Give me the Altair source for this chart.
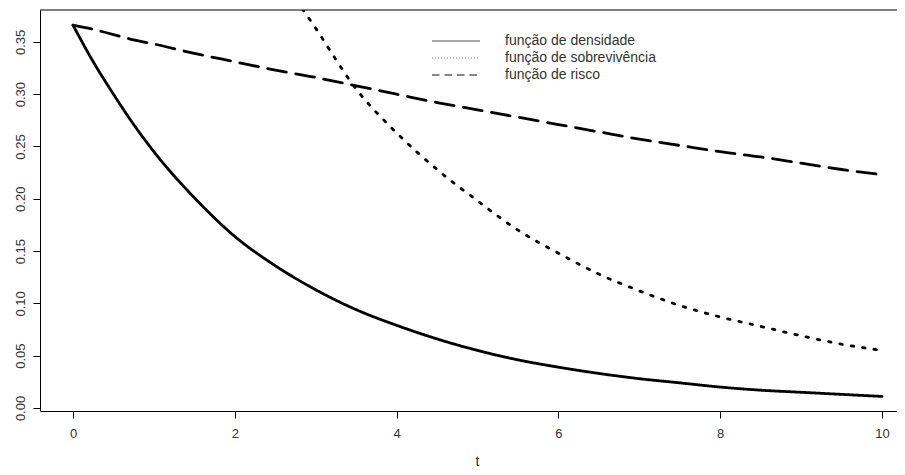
import altair as alt
import pandas as pd

# ---- data ----
t = [0.0, 0.25, 0.5, 0.75, 1.0, 1.5, 2.0, 2.5, 3.0, 3.5, 4.0, 4.5, 5.0,
     5.5, 6.0, 6.5, 7.0, 7.5, 8.0, 8.5, 9.0, 9.5, 10.0]
densidade = [0.366, 0.331, 0.300, 0.271, 0.245, 0.201, 0.164, 0.136, 0.113, 0.094, 0.079, 0.066, 0.055,
             0.046, 0.039, 0.033, 0.028, 0.024, 0.020, 0.017, 0.015, 0.013, 0.011]
sobrevivencia = [1.000, 0.915, 0.840, 0.770, 0.704, 0.593, 0.495, 0.421, 0.363, 0.305, 0.263, 0.228, 0.198,
                 0.170, 0.148, 0.128, 0.112, 0.098, 0.087, 0.078, 0.069, 0.061, 0.055]
risco = [0.366, 0.362, 0.357, 0.352, 0.348, 0.339, 0.331, 0.323, 0.316, 0.308, 0.300, 0.292, 0.285,
         0.278, 0.271, 0.264, 0.257, 0.251, 0.245, 0.240, 0.234, 0.228, 0.223]
series_names = ["função de densidade", "função de sobrevivência", "função de risco"]
x_ticks = [0, 2, 4, 6, 8, 10]
y_ticks = [0.00, 0.05, 0.10, 0.15, 0.20, 0.25, 0.30, 0.35]

rows = []
for name, vals in zip(series_names, [densidade, sobrevivencia, risco]):
    for ti, v in zip(t, vals):
        rows.append({"t": ti, "valor": v, "serie": name})
df = pd.DataFrame(rows)
leg_df = pd.DataFrame({"serie": series_names})
border_df = pd.DataFrame({"k": [0]})

W, H = 857, 401
FONT = "Liberation Sans"
TXT = "#333333"

x_scale = alt.Scale(domain=[-0.408, 10.185], nice=False, zero=False)
y_scale = alt.Scale(domain=[-0.0029, 0.3805], nice=False, zero=False)

lines = alt.Chart(df).mark_line(
    color="black", strokeWidth=2.8, strokeCap="round", strokeJoin="round",
    interpolate="monotone", clip=True
).encode(
    x=alt.X("t:Q", scale=x_scale,
            axis=alt.Axis(values=x_ticks, format="d", title="t", grid=False,
                          domainColor="black", tickColor="black", tickSize=7,
                          labelFont=FONT, labelFontSize=13, labelColor=TXT,
                          labelPadding=9, labelBaseline="top",
                          titleFont=FONT, titleFontSize=14, titleFontWeight="normal",
                          titleColor=TXT, titleX=437, titleY=54,
                          titleBaseline="alphabetic", titleAnchor="start", titleAlign="center")),
    y=alt.Y("valor:Q", scale=y_scale,
            axis=alt.Axis(values=y_ticks, format=".2f", title=None, grid=False,
                          domainColor="black", tickColor="black", tickSize=7,
                          labelFont=FONT, labelFontSize=13, labelColor=TXT,
                          labelAngle=270, labelAlign="center", labelBaseline="bottom",
                          labelPadding=6)),
    strokeDash=alt.StrokeDash("serie:N",
                              scale=alt.Scale(domain=series_names,
                                              range=[[1, 0], [2.5, 9], [19, 9.5]]),
                              legend=None),
    order="t:Q",
)

top_border = alt.Chart(border_df).mark_rule(color="black", strokeWidth=1).encode(
    x=alt.value(0), x2=alt.value(W), y=alt.value(0)
)

leg_y = alt.Y("serie:N",
              scale=alt.Scale(type="point", domain=series_names, range=[31, 65], padding=0),
              axis=None)

leg_lines = alt.Chart(leg_df).mark_rule(strokeWidth=1).encode(
    x=alt.value(392), x2=alt.value(440), y=leg_y,
    color=alt.Color("serie:N",
                    scale=alt.Scale(domain=series_names,
                                    range=["#555555", "#777777", "#111111"]),
                    legend=None),
    strokeDash=alt.StrokeDash("serie:N",
                              scale=alt.Scale(domain=series_names,
                                              range=[[1, 0], [1, 2], [7.5, 5]]),
                              legend=None),
)

leg_text = alt.Chart(leg_df).mark_text(
    align="left", baseline="middle", fontSize=14, font=FONT, color=TXT
).encode(x=alt.value(465), y=leg_y, text="serie:N")

legend = alt.layer(leg_lines, leg_text)

chart = alt.layer(lines, top_border, legend).resolve_scale(
    y="independent", strokeDash="independent"
).properties(
    width=W, height=H,
    padding={"left": 32, "top": 2, "right": 0, "bottom": 60},
    autosize=alt.AutoSizeParams(type="none"),
).configure_view(stroke="transparent")

chart.save("out.html", embed_options={"renderer": "svg", "actions": False})
